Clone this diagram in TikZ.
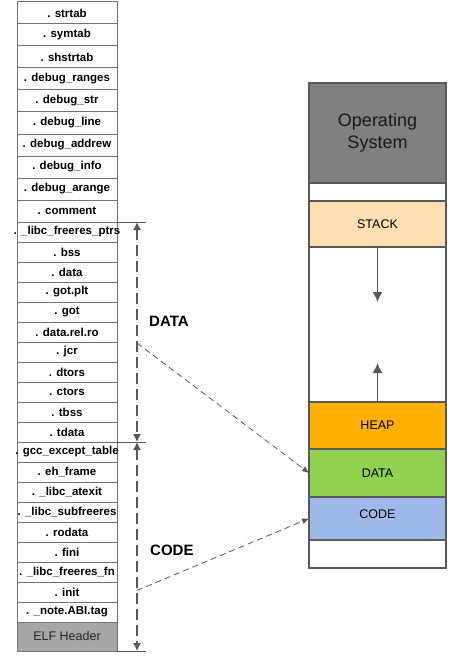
\documentclass[tikz,border=0pt]{standalone}
\usepackage{fontspec}
\setmainfont{Liberation Sans}
\usepackage{xcolor}
\usetikzlibrary{positioning, calc}
\usetikzlibrary{arrows.meta}
\tikzset{>={Latex[width=6pt,length=7pt]}}
\definecolor{edgegray}{HTML}{595959}
\definecolor{osgray}{HTML}{808080}
\definecolor{elfgray}{HTML}{A6A6A6}
\definecolor{stackpeach}{HTML}{FDDFB3}
\definecolor{heaporange}{HTML}{FFB000}
\definecolor{datagreen}{HTML}{92D050}
\definecolor{codeblue}{HTML}{9EB8EA}

\begin{document}
\begin{tikzpicture}[x=1pt, y=-1pt, node distance=0pt,
    sect/.style={rectangle, draw=black!55, fill=white, line width=1pt, minimum width=100pt, minimum height=20pt, inner sep=0pt, outer sep=0pt, font=\bfseries\fontsize{11.5}{12}\selectfont, execute at begin node={\hbox to 0pt\bgroup\hss}, execute at end node={\hss\egroup}},
    topsect/.style={sect, minimum height=22pt},
    mem/.style={rectangle, draw=edgegray, line width=1.2pt, minimum width=137pt, inner sep=0pt, outer sep=0pt, font=\fontsize{12.5}{14}\selectfont},
    dim/.style={draw=edgegray, line width=1.3pt, dash pattern=on 11pt off 5pt, {Latex[width=8pt,length=8pt]}-{Latex[width=8pt,length=8pt]}},
    ext/.style={draw=edgegray, line width=1pt},
    pointer/.style={draw=edgegray, line width=0.8pt, dash pattern=on 6pt off 4pt, -{Latex[width=6pt,length=7pt]}},
    growarrow/.style={draw=edgegray, line width=1.5pt, -{Latex[width=10pt,length=10pt]}},
    sizelabel/.style={font=\bfseries\fontsize{15}{15}\selectfont, anchor=west, inner sep=0pt}]

    \useasboundingbox (0,0) rectangle (454,666);

    %Sections of the file
    \node[topsect, anchor=north](strtab) at (67,2){. strtab};
    \node[topsect](symtab)[below=of strtab]{. symtab};
    \node[topsect](shstrtab)[below=of symtab]{. shstrtab};
    \node[topsect](dranges)[below=of shstrtab]{. debug\_ranges};
    \node[topsect](dstr)[below=of dranges]{. debug\_str};
    \node[topsect](dline)[below=of dstr]{. debug\_line};
    \node[topsect](daddrew)[below=of dline]{. debug\_addrew};
    \node[topsect](dinfo)[below=of daddrew]{. debug\_info};
    \node[topsect](darange)[below=of dinfo]{. debug\_arange};
    \node[topsect](comment)[below=of darange]{. comment};
    \node[sect](freeptrs)[below=of comment]{. \_libc\_freeres\_ptrs};
    \node[sect](bss)[below=of freeptrs]{. bss};
    \node[sect](data)[below=of bss]{. data};
    \node[sect](gotplt)[below=of data]{. got.plt};
    \node[sect](got)[below=of gotplt]{. got};
    \node[sect](relro)[below=of got]{. data.rel.ro};
    \node[sect](jcr)[below=of relro]{. jcr};
    \node[sect](dtors)[below=of jcr]{. dtors};
    \node[sect](ctors)[below=of dtors]{. ctors};
    \node[sect](tbss)[below=of ctors]{. tbss};
    \node[sect](tdata)[below=of tbss]{. tdata};
    \node[sect](gccexc)[below=of tdata]{. gcc\_except\_table};
    \node[sect](ehframe)[below=of gccexc]{. eh\_frame};
    \node[sect](atexit)[below=of ehframe]{. \_libc\_atexit};
    \node[sect](subfree)[below=of atexit]{. \_libc\_subfreeres};
    \node[sect](rodata)[below=of subfree]{. rodata};
    \node[sect](fini)[below=of rodata]{. fini};
    \node[sect](freefn)[below=of fini]{. \_libc\_freeres\_fn};
    \node[sect](init)[below=of freefn]{. init};
    \node[sect](abitag)[below=of init]{. \_note.ABI.tag};
    \node[sect, fill=elfgray, minimum height=29pt, font=\fontsize{12.5}{14}\selectfont, text=black!85](elf)[below=of abitag]{ELF Header};

    %Memory layout
    \node[mem, fill=osgray, minimum height=100pt, align=center, font=\fontsize{18}{22}\selectfont, text=black!90, anchor=north](os) at (377.5,83){Operating\\System};
    \node[mem, fill=white, minimum height=18pt](gaptop)[below=of os]{};
    \node[mem, fill=stackpeach, minimum height=46pt](stack)[below=of gaptop]{STACK};
    \node[mem, fill=white, minimum height=155pt](free)[below=of stack]{};
    \node[mem, fill=heaporange, minimum height=47pt](heap)[below=of free]{HEAP};
    \node[mem, fill=datagreen, minimum height=48pt](datamem)[below=of heap]{DATA};
    \node[mem, fill=codeblue, minimum height=43pt, text depth=9pt](codemem)[below=of datamem]{CODE};
    \node[mem, fill=white, minimum height=28pt](gapbot)[below=of codemem]{};

    %Size marks
    \coordinate (dtop) at ([xshift=20pt]freeptrs.north east);
    \coordinate (dmid) at ([xshift=20pt]gccexc.north east);
    \coordinate (dbot) at ([xshift=20pt]elf.south east);
    \coordinate (dataref) at ($(dtop)!0.55!(dmid)$);
    \coordinate (coderef) at ($(dmid)!0.71!(dbot)$);
    \coordinate (stackend) at ([yshift=-55pt]stack.south);
    \coordinate (heapend) at ([yshift=39pt]heap.north);
    \node[sizelabel](datalabel) at ($(dtop)!0.45!(dmid)+(12,0)$){DATA};
    \node[sizelabel](codelabel) at ($(dmid)!0.52!(dbot)+(13,0)$){CODE};

    %Lines
    \draw[ext] (freeptrs.north east) -- ([xshift=9pt]dtop);
    \draw[ext] (gccexc.north east) -- ([xshift=9pt]dmid);
    \draw[ext] (elf.south east) -- ([xshift=9pt]dbot);
    \draw[dim] (dtop) -- (dmid);
    \draw[dim] (dmid) -- (dbot);
    \draw[pointer] (dataref) -- (datamem.west);
    \draw[pointer] (coderef) -- (codemem.west);
    \draw[growarrow] (stack.south) -- (stackend);
    \draw[growarrow] (heap.north) -- (heapend);

\end{tikzpicture}
\end{document}
